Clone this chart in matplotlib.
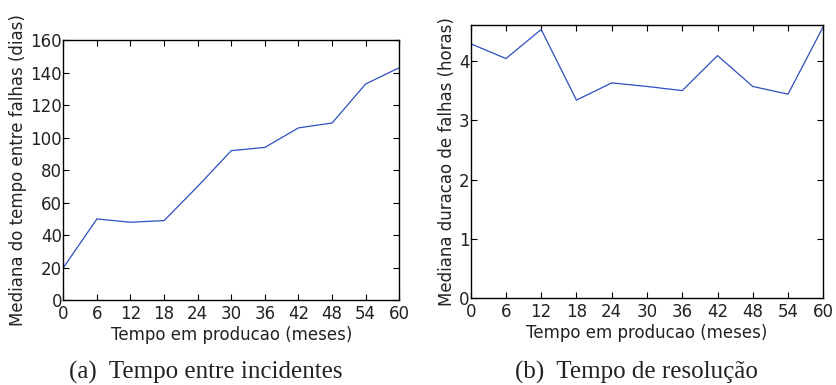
import matplotlib
matplotlib.use('Agg')
from matplotlib import pyplot as plt

meses = [0, 6, 12, 18, 24, 30, 36, 42, 48, 54, 60]
entre_falhas = [20, 50, 48, 49, 70, 92, 94, 106, 109, 133, 143]
duracao = [4.29, 4.04, 4.53, 3.34, 3.63, 3.57, 3.50, 4.09, 3.57, 3.44, 4.58]

LINE = '#2d4fbf'
TXT = '#222222'


def style_axes(ax):
    ax.tick_params(direction='in', top=True, right=True, length=4, width=0.8,
                   labelsize=12, colors='black', labelcolor=TXT)
    ax.tick_params(axis='x', pad=3.5)
    ax.tick_params(axis='y', pad=1)
    for s in ax.spines.values():
        s.set_linewidth(1.0)
    ax.set_xticks(meses)
    ax.set_xlim(0, 60)


fig = plt.figure(figsize=(8.36, 3.85), dpi=100)

ax1 = fig.add_axes([0.0757, 0.22, 0.4019, 0.676])
ax1.plot(meses, entre_falhas, color=LINE, linewidth=0.9)
style_axes(ax1)
ax1.set_ylim(0, 160)
ax1.set_yticks(range(0, 161, 20))
ax1.set_xlabel('Tempo em producao (meses)', fontsize=12, color=TXT, labelpad=2)
ax1.set_ylabel('Mediana do tempo entre falhas (dias)', fontsize=12, color=TXT, labelpad=2)

ax2 = fig.add_axes([0.563, 0.2252, 0.4218, 0.709])
ax2.plot(meses, duracao, color=LINE, linewidth=0.9)
style_axes(ax2)
ax2.set_ylim(0, 4.6)
ax2.set_yticks([0, 1, 2, 3, 4])
ax2.set_xlabel('Tempo em producao (meses)', fontsize=12, color=TXT, labelpad=2)
ax2.set_ylabel('Mediana duracao de falhas (horas)', fontsize=12, color=TXT, labelpad=2)

# legendas das subfiguras, estilo LaTeX
cap = dict(family='Liberation Serif', fontsize=18, ha='center', va='baseline', color=TXT)
fig.text(206 / 836, 1 - 379 / 385, '(a)  Tempo entre incidentes', **cap)
fig.text(636 / 836, 1 - 379 / 385, '(b)  Tempo de resolução', **cap)

fig.savefig('out.png', dpi=100)
